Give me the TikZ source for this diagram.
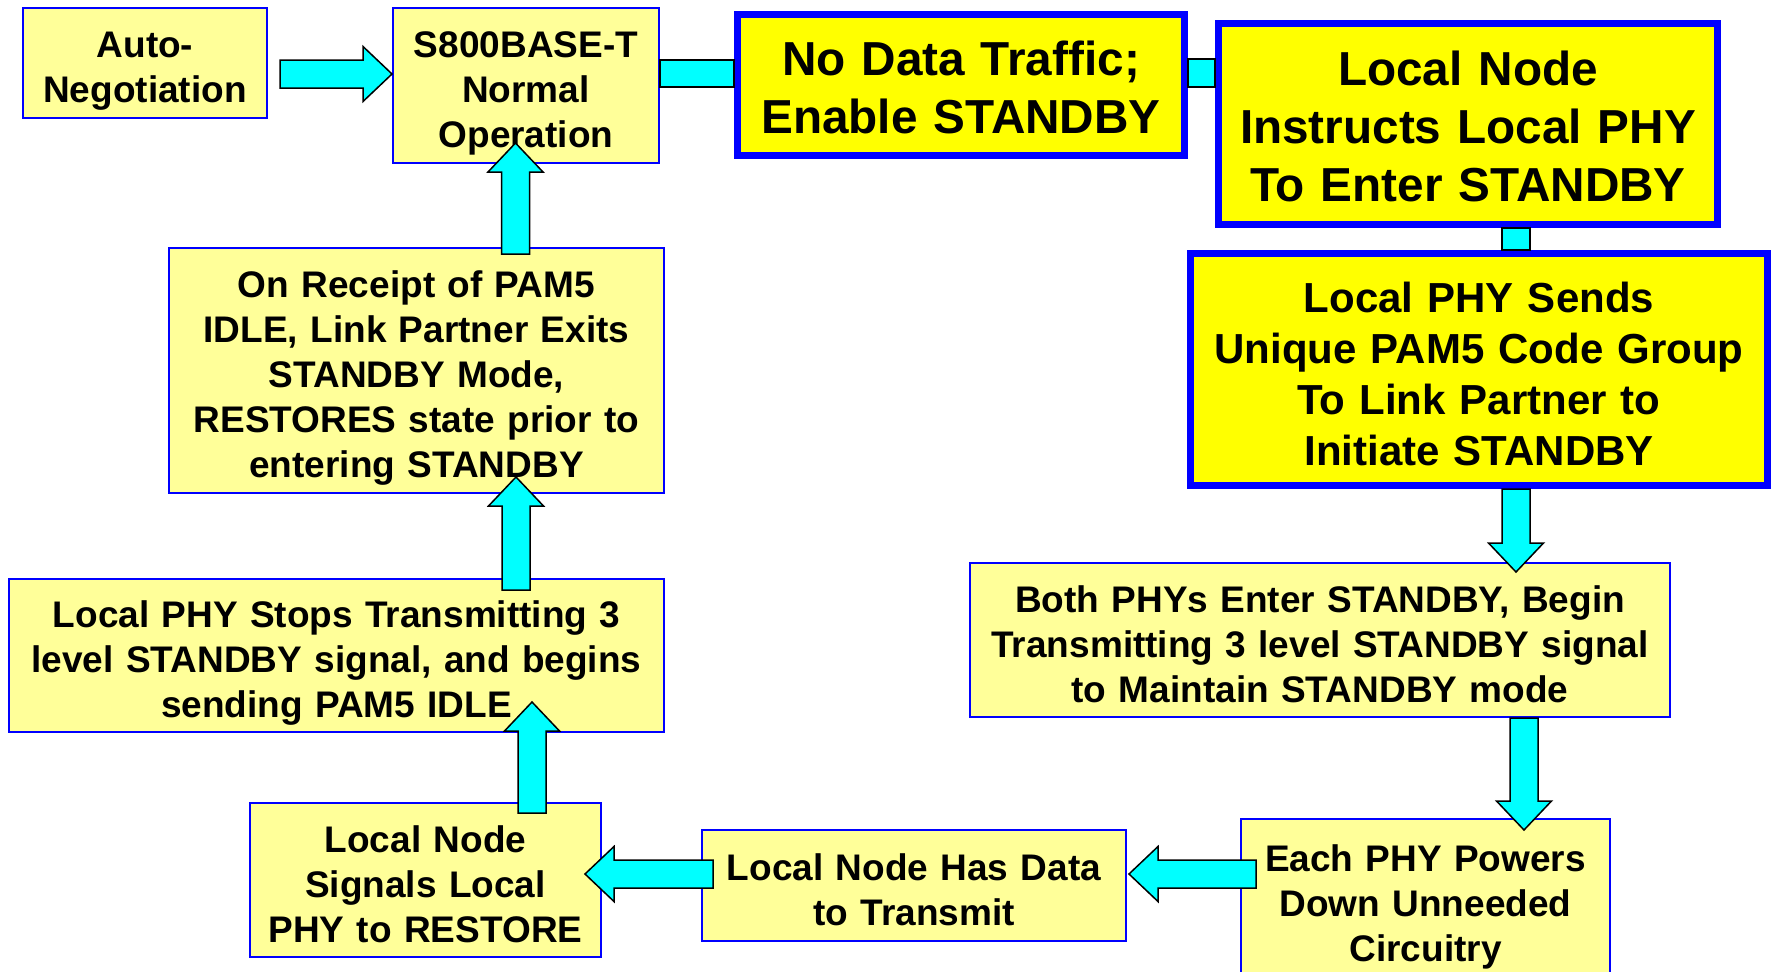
\documentclass[tikz,border=0pt]{standalone}
\usepackage{fontspec}
\setmainfont{Liberation Sans}
\usetikzlibrary{calc}

\definecolor{paleyellow}{HTML}{FFFF99}
\definecolor{vividyellow}{HTML}{FFFF00}
\definecolor{boxblue}{HTML}{0000FF}
\definecolor{flowcyan}{HTML}{00FFFF}

% block arrow from #1 (tail) to #2 (tip)
\newcommand{\blockarrow}[2]{%
  \draw[flow] let \p1=(#1), \p2=(#2),
      \n1={veclen(\x2-\x1,\y2-\y1)}, \n2={atan2(\y2-\y1,\x2-\x1)} in
    [shift={(\p1)}, rotate=\n2]
    (0pt,-14pt) -- ({\n1*1pt-29pt},-14pt) -- ({\n1*1pt-29pt},-27.5pt)
    -- ({\n1*1pt},0pt) -- ({\n1*1pt-29pt},27.5pt) -- ({\n1*1pt-29pt},14pt)
    -- (0pt,14pt) -- cycle;}

\begin{document}
\begin{tikzpicture}[x=1pt,y=-1pt,
    box/.style={draw=boxblue,line width=2pt,fill=paleyellow,align=center,inner sep=0pt,
      minimum width=#1,text width=#1-10,
      font=\bfseries\fontsize{37}{45}\selectfont,
      execute at begin node={\rule{0pt}{42pt}},
      execute at end node={\rule[-7.8pt]{0pt}{0pt}}},
    bigbox/.style={box=#1,line width=7pt,fill=vividyellow,
      font=\bfseries\fontsize{47.7}{58}\selectfont,
      execute at begin node={\rule{0pt}{48pt}},
      execute at end node={\rule[-10pt]{0pt}{0pt}}},
    flow/.style={draw=black,line width=1.5pt,fill=flowcyan,line join=miter}]
  \useasboundingbox[fill=white] (0,0) rectangle (1773,972);

  \node[box=244,minimum height=110](auto) at (145,63){Auto-\\Negotiation};
  \node[box=266,minimum height=155](normal) at (526,85.5){S800BASE-T\\Normal\\Operation};
  \node[bigbox=447,minimum height=141](nodata) at (961,85){No Data Traffic;\\Enable STANDBY};
  \node[bigbox=499,minimum height=201](instr) at (1468,124){Local Node\\Instructs Local PHY\\To Enter STANDBY};
  \node[bigbox=577,minimum height=232,font=\bfseries\fontsize{42}{51}\selectfont,
    execute at begin node={\rule{0pt}{46pt}},
    execute at end node={\rule[-8.8pt]{0pt}{0pt}}](sends) at (1479,369.5){Local PHY Sends\\Unique PAM5 Code Group\\To Link Partner to\\Initiate STANDBY};
  \node[box=700,minimum height=154](both) at (1320,640){Both PHYs Enter STANDBY, Begin\\Transmitting 3 level STANDBY signal\\to Maintain STANDBY mode};
  \node[box=369,minimum height=160](each) at (1425.5,899){Each PHY Powers\\Down Unneeded\\Circuitry};
  \node[box=424,minimum height=111](hasdata) at (914,885.5){Local Node Has Data\\to Transmit};
  \node[box=351,minimum height=154](signals) at (425.5,880){Local Node\\Signals Local\\PHY to RESTORE};
  \node[box=655,minimum height=153](stops) at (336.5,655.5){Local PHY Stops Transmitting 3\\level STANDBY signal, and begins\\sending PAM5 IDLE};
  \node[box=495,minimum height=245](receipt) at (416.5,370.5){On Receipt of PAM5\\IDLE, Link Partner Exits\\STANDBY Mode,\\RESTORES state prior to\\entering STANDBY};

  % connecting bars
  \draw[flow] ($(normal.east)+(0,-25.5)$) rectangle ($(nodata.west)+(0,2)$);
  \draw[flow] ($(nodata.east)+(0,-26)$) rectangle ($(instr.west)+(0,-37)$);
  \draw[flow] ($(instr.south)+(34,0)$) rectangle ($(sends.north)+(51,0)$);

  % arrows
  \blockarrow{$(auto.east)+(12,11)$}{$(normal.west)+(0,-11.5)$}
  \blockarrow{$(sends.south)+(37,0)$}{$(both.north)+(196,10)$}
  \blockarrow{$(both.south)+(204,0)$}{$(each.north)+(98.5,12)$}
  \blockarrow{$(each.west)+(16,-25)$}{$(hasdata.east)+(2,-11.5)$}
  \blockarrow{$(hasdata.west)+(12,-11.5)$}{$(signals.east)+(-17,-6)$}
  \blockarrow{$(signals.north)+(106.5,11)$}{$(stops.south)+(195.5,-31)$}
  \blockarrow{$(stops.north)+(179.5,12)$}{$(receipt.south)+(99.5,-17)$}
  \blockarrow{$(receipt.north)+(99,7)$}{$(normal.south)+(-10.5,-21)$}
\end{tikzpicture}
\end{document}
